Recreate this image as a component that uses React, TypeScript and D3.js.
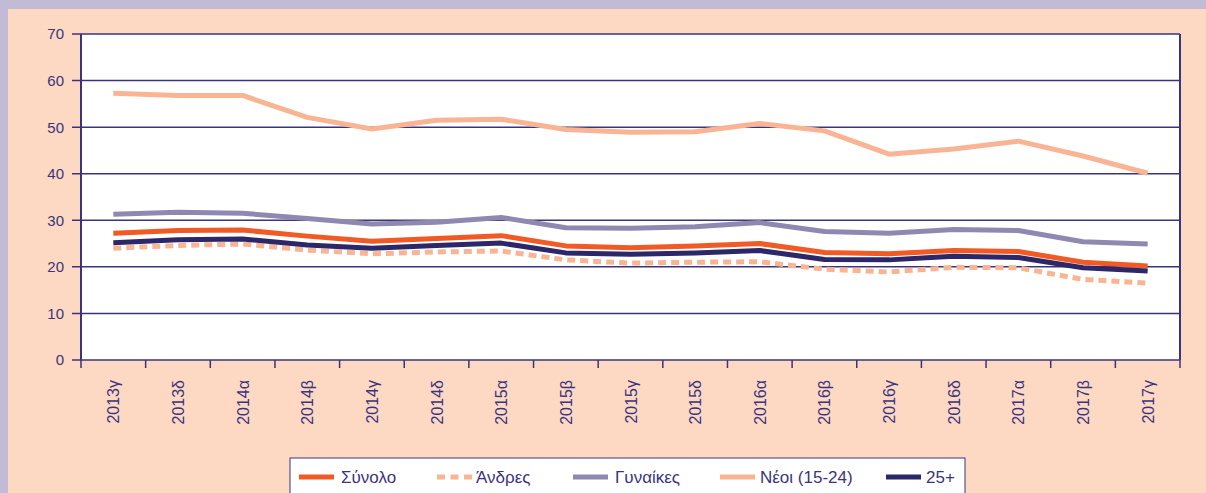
import React from "react";
import * as d3 from "d3";

const categories = ["2013γ","2013δ","2014α","2014β","2014γ","2014δ","2015α","2015β","2015γ","2015δ","2016α","2016β","2016γ","2016δ","2017α","2017β","2017γ"];
const synolo = [27.2,27.8,27.9,26.6,25.5,26.1,26.7,24.5,24.1,24.5,25.0,23.1,22.8,23.5,23.3,21.0,20.2];
const andres = [24.0,24.6,24.9,23.6,22.8,23.2,23.4,21.5,20.8,21.0,21.1,19.5,18.9,19.9,19.8,17.3,16.5];
const gynaikes = [31.3,31.7,31.5,30.4,29.2,29.6,30.6,28.4,28.3,28.6,29.5,27.6,27.2,28.0,27.8,25.4,24.9];
const neoi = [57.3,56.8,56.8,52.1,49.6,51.5,51.7,49.5,48.9,49.0,50.8,49.2,44.2,45.3,47.0,43.8,40.1];
const plus25 = [25.2,25.8,26.0,24.7,24.0,24.6,25.1,23.0,22.7,23.0,23.5,21.6,21.5,22.3,22.0,19.8,19.1];
const yTicks = [0,10,20,30,40,50,60,70];

const seriesNames = ["Σύνολο","Άνδρες","Γυναίκες","Νέοι (15-24)","25+"];
const seriesValues = [synolo, andres, gynaikes, neoi, plus25];
const seriesColors = ["#F15A24","#F9B593","#8F88B0","#F9B593","#2B2768"];
const seriesDash = [null, "8,5", null, null, null];

const W = 1206, H = 493;
const left = 81, right = 1180, top = 34, bottom = 360;
const axisColor = "#3A347E";
const font = "'Liberation Sans', Arial, sans-serif";

export default function App() {
  const x = d3.scaleBand<string>().domain(categories).range([left, right]).padding(0);
  const y = d3.scaleLinear().domain([0, 70]).range([bottom, top]);
  const line = d3.line<number>().x((_, i) => (x(categories[i]) as number) + x.bandwidth() / 2).y(d => y(d));

  const legendItems = [
    { sx: 299, tx: 341 },
    { sx: 437, tx: 476 },
    { sx: 573, tx: 615 },
    { sx: 720, tx: 760 },
    { sx: 886, tx: 926 },
  ];

  return (
    <div style={{ position: "fixed", left: 0, top: 0 }}>
      <svg width={W} height={H} style={{ display: "block" }}>
        <rect x={0} y={0} width={W} height={H} fill="#C1BBD5" />
        <rect x={8} y={9} width={W - 8} height={H - 9} fill="#FDD9C3" />
        <rect x={left} y={top} width={right - left} height={bottom - top} fill="#FFFFFF" />
        {yTicks.map(t => (
          <g key={t}>
            <line x1={left - 9} x2={right} y1={y(t)} y2={y(t)} stroke={axisColor} strokeWidth={1.5} />
            <text x={64} y={y(t)} dy="0.36em" textAnchor="end" fontFamily={font} fontSize={15} fill={axisColor}>{t}</text>
          </g>
        ))}
        <line x1={left} x2={left} y1={top} y2={bottom} stroke={axisColor} strokeWidth={2} />
        <line x1={right} x2={right} y1={top} y2={bottom} stroke={axisColor} strokeWidth={2} />
        {categories.map(c => (
          <line key={"t" + c} x1={x(c) as number} x2={x(c) as number} y1={bottom} y2={bottom + 8} stroke={axisColor} strokeWidth={1.5} />
        ))}
        <line x1={right} x2={right} y1={bottom} y2={bottom + 8} stroke={axisColor} strokeWidth={1.5} />
        {categories.map(c => {
          const cx = (x(c) as number) + x.bandwidth() / 2;
          return (
            <text key={"l" + c} transform={`translate(${cx + 6},380) rotate(-90)`} textAnchor="end" fontFamily={font} fontSize={16} fill={axisColor}>{c}</text>
          );
        })}
        {seriesValues.map((vals, k) => (
          <path key={"s" + k} d={line(vals) || ""} fill="none" stroke={seriesColors[k]} strokeWidth={5}
            strokeDasharray={seriesDash[k] || undefined} strokeLinejoin="round" />
        ))}
        <rect x={290} y={458} width={675} height={50} fill="#FFFFFF" stroke={axisColor} strokeWidth={1} />
        {seriesNames.map((n, k) => (
          <g key={"lg" + k}>
            <line x1={legendItems[k].sx} x2={legendItems[k].sx + 35} y1={477} y2={477}
              stroke={seriesColors[k]} strokeWidth={5} strokeDasharray={k === 1 ? "8,5.5" : undefined} />
            <text x={legendItems[k].tx} y={477} dy="0.36em" fontFamily={font} fontSize={17} fill={axisColor}>{n}</text>
          </g>
        ))}
      </svg>
    </div>
  );
}
